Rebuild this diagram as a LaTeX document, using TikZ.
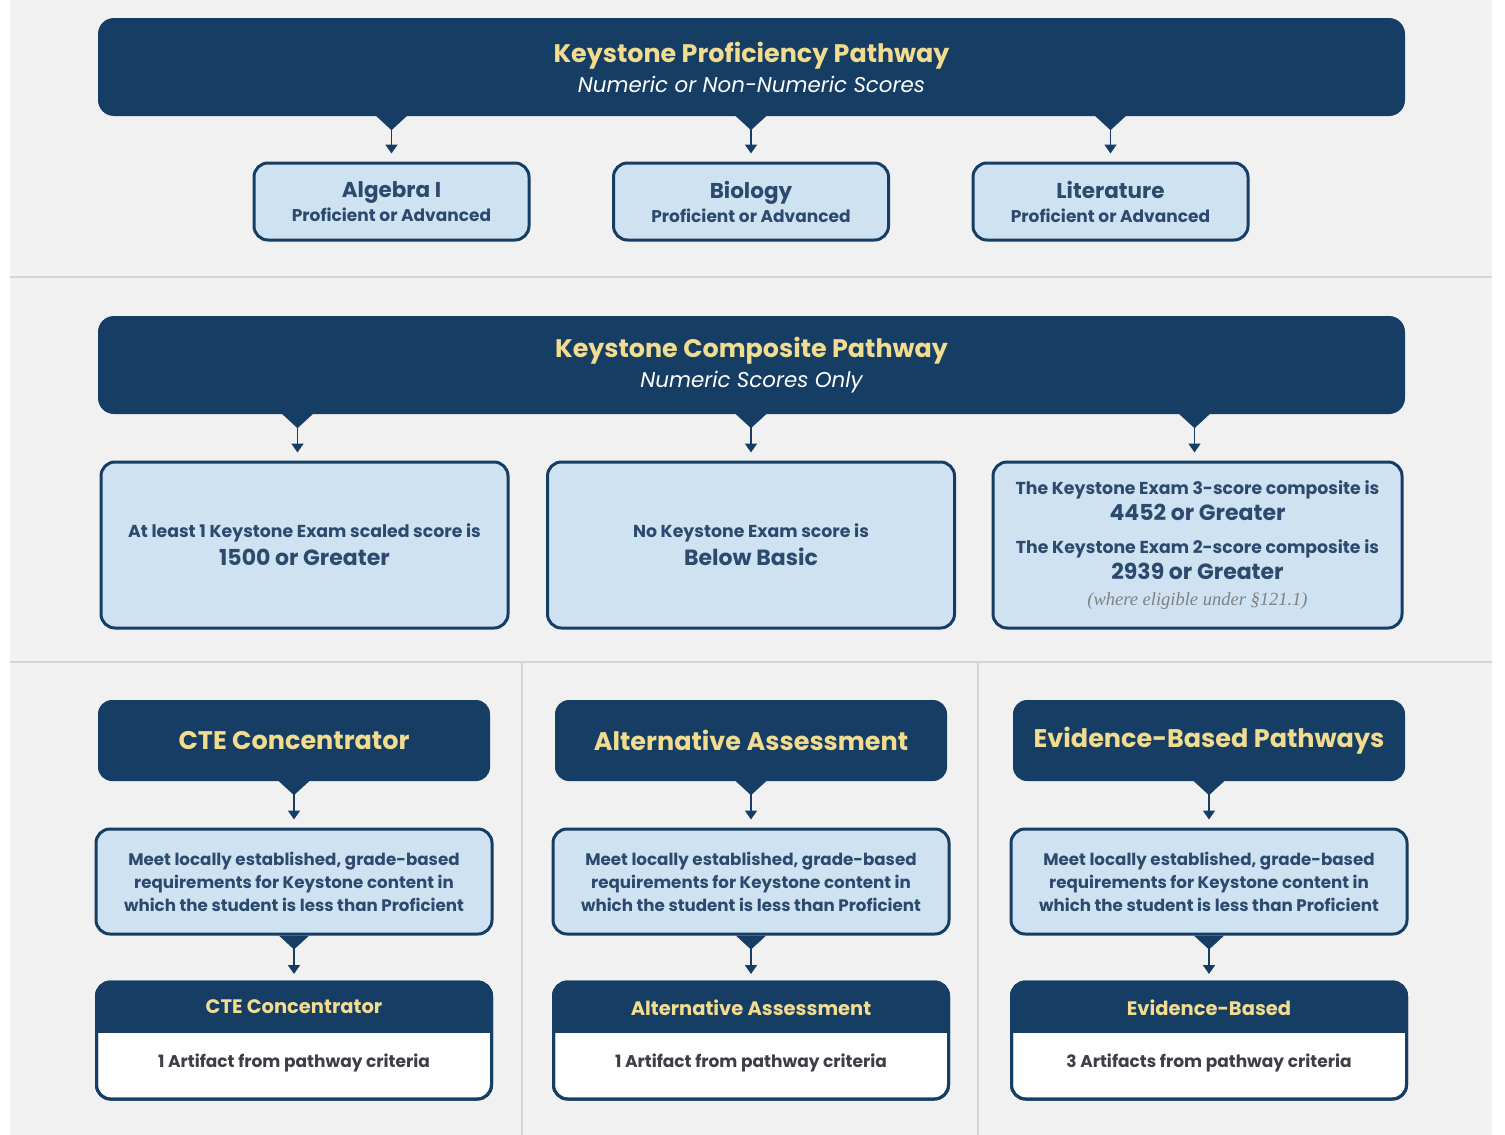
\documentclass[tikz,border=0pt]{standalone}
\usepackage{fontspec}
\setmainfont{Poppins}
\newfontfamily\notefont{Liberation Serif}
\usetikzlibrary{positioning,arrows.meta}
\definecolor{navy}{HTML}{163D63}
\definecolor{gold}{HTML}{F1DC8F}
\definecolor{pale}{HTML}{CFE2F1}
\definecolor{paper}{HTML}{F1F1F1}
\definecolor{rule}{HTML}{D5D5D5}
\definecolor{ink}{HTML}{2C4A6E}
\definecolor{body}{HTML}{3C3F45}

\begin{document}
\begin{tikzpicture}[x=1pt,y=-1pt,
  banner/.style={fill=navy,rounded corners=16pt,minimum width=1307pt,minimum height=98pt,align=center,inner sep=0pt,
    font=\fontsize{21.4}{30}\selectfont},
  palebox/.style={fill=pale,draw=navy,line width=3pt,rounded corners=14pt,align=center,text=ink,inner sep=0pt},
  headbox/.style={fill=navy,rounded corners=14pt,minimum width=392pt,minimum height=81pt,text=gold,
    font=\bfseries\fontsize{25.5}{28}\selectfont},
  outbox/.style={fill=white,draw=navy,line width=3pt,rounded corners=14pt,minimum width=395pt,minimum height=117pt,outer sep=0pt},
  link/.style={navy,line width=1.8pt,{Triangle[reversed,width=30pt,length=14pt]}-{Triangle[width=12pt,length=9pt]},shorten >=8pt},
  sep/.style={rule,line width=2pt}]

  \useasboundingbox (0,0) rectangle (1505,1135);
  \fill[paper] (10,0) rectangle (1492,1135);
  \draw[sep] (10,277) -- (1492,277);
  \draw[sep] (10,662) -- (1492,662);
  \draw[sep] (522,662) -- (522,1135);
  \draw[sep] (978,662) -- (978,1135);

  % proficiency
  \node[banner] (prof) at (751.5,67)
    {{\bfseries\color{gold}\fontsize{25.4}{30}\selectfont Keystone Proficiency Pathway}\\
     {\itshape\color{white}Numeric or Non-Numeric Scores}};
  \node[palebox,minimum width=275pt,minimum height=77pt,font=\fontsize{17}{24}\selectfont] (alg) at (391.5,201.5)
    {{\bfseries\fontsize{21.5}{24}\selectfont Algebra I}\\{\bfseries Proficient or Advanced}};
  \node[palebox,minimum width=275pt,minimum height=77pt,font=\fontsize{17}{24}\selectfont] (bio) at (751,201.5)
    {{\bfseries\fontsize{21.5}{24}\selectfont Biology}\\{\bfseries Proficient or Advanced}};
  \node[palebox,minimum width=275pt,minimum height=77pt,font=\fontsize{17}{24}\selectfont] (lit) at (1110.5,201.5)
    {{\bfseries\fontsize{21.5}{24}\selectfont Literature}\\{\bfseries Proficient or Advanced}};
  \draw[link] (prof.south -| alg.north) -- (alg.north);
  \draw[link] (prof.south -| bio.north) -- (bio.north);
  \draw[link] (prof.south -| lit.north) -- (lit.north);

  % composite
  \node[banner] (comp) at (751.5,365)
    {{\bfseries\color{gold}\fontsize{25.4}{30}\selectfont Keystone Composite Pathway}\\
     {\itshape\color{white}Numeric Scores Only}};
  \node[palebox,minimum width=407pt,minimum height=166pt,font=\fontsize{17.3}{28}\selectfont] (one) at (304.5,545)
    {{\bfseries At least 1 Keystone Exam scaled score is}\\
     {\bfseries\fontsize{22}{24}\selectfont 1500 or Greater}};
  \node[palebox,minimum width=407pt,minimum height=166pt,font=\fontsize{17.3}{28}\selectfont] (nobb) at (751,545)
    {{\bfseries No Keystone Exam score is}\\
     {\bfseries\fontsize{22}{24}\selectfont Below Basic}};
  \node[palebox,minimum width=409pt,minimum height=166pt,font=\fontsize{17.3}{26}\selectfont] (sum) at (1197.5,545)
    {{\bfseries The Keystone Exam 3-score composite is}\\
     {\bfseries\fontsize{22}{24}\selectfont 4452 or Greater}\\[7pt]
     {\bfseries The Keystone Exam 2-score composite is}\\
     {\bfseries\fontsize{22}{24}\selectfont 2939 or Greater}\\
     {\notefont\itshape\color{gray}\fontsize{18.5}{18}\selectfont (where eligible under §121.1)}};
  \draw[link] ([xshift=-7pt]comp.south -| one.north) -- ([xshift=-7pt]one.north);
  \draw[link] (comp.south -| nobb.north) -- (nobb.north);
  \draw[link] ([xshift=-3pt]comp.south -| sum.north) -- ([xshift=-3pt]sum.north);

  % pathways
  \node[headbox] (cte) at (294,740.5) {CTE Concentrator};
  \node[headbox] (alt) at (751,740.5) {Alternative Assessment};
  \node[headbox] (evid) at (1209,740.5) {Evidence-Based Pathways};

  \node[palebox,minimum width=396pt,minimum height=105pt,font=\bfseries\fontsize{16.7}{23}\selectfont] (ctemeet) at (294,881.5)
    {Meet locally established, grade-based\\requirements for Keystone content in\\which the student is less than Proficient};
  \node[palebox,minimum width=396pt,minimum height=105pt,font=\bfseries\fontsize{16.7}{23}\selectfont] (altmeet) at (751,881.5)
    {Meet locally established, grade-based\\requirements for Keystone content in\\which the student is less than Proficient};
  \node[palebox,minimum width=396pt,minimum height=105pt,font=\bfseries\fontsize{16.7}{23}\selectfont] (evidmeet) at (1209,881.5)
    {Meet locally established, grade-based\\requirements for Keystone content in\\which the student is less than Proficient};

  \node[outbox] (cteout) at (294,1040.5) {};
  \node[outbox] (altout) at (751,1040.5) {};
  \node[outbox] (evidout) at (1209,1040.5) {};
  \begin{scope}
    \clip[rounded corners=14pt] (cteout.north west) rectangle (cteout.south east);
    \fill[navy] (cteout.north west) rectangle ([yshift=-51pt]cteout.north east);
  \end{scope}
  \begin{scope}
    \clip[rounded corners=14pt] (altout.north west) rectangle (altout.south east);
    \fill[navy] (altout.north west) rectangle ([yshift=-51pt]altout.north east);
  \end{scope}
  \begin{scope}
    \clip[rounded corners=14pt] (evidout.north west) rectangle (evidout.south east);
    \fill[navy] (evidout.north west) rectangle ([yshift=-51pt]evidout.north east);
  \end{scope}
  \draw[navy,line width=3pt,rounded corners=14pt] (cteout.north west) rectangle (cteout.south east);
  \draw[navy,line width=3pt,rounded corners=14pt] (altout.north west) rectangle (altout.south east);
  \draw[navy,line width=3pt,rounded corners=14pt] (evidout.north west) rectangle (evidout.south east);

  \node[text=gold,font=\bfseries\fontsize{19.5}{20}\selectfont] (ctetag) at ([yshift=-25pt]cteout.north) {CTE Concentrator};
  \node[text=gold,font=\bfseries\fontsize{19.5}{20}\selectfont] (alttag) at ([yshift=-26pt]altout.north) {Alternative Assessment};
  \node[text=gold,font=\bfseries\fontsize{19.5}{20}\selectfont] (evidtag) at ([yshift=-26pt]evidout.north) {Evidence-Based};
  \node[text=body,font=\bfseries\fontsize{17}{18}\selectfont] (ctenum) at ([yshift=-81pt]cteout.north) {1 Artifact from pathway criteria};
  \node[text=body,font=\bfseries\fontsize{17}{18}\selectfont] (altnum) at ([yshift=-81pt]altout.north) {1 Artifact from pathway criteria};
  \node[text=body,font=\bfseries\fontsize{17}{18}\selectfont] (evidnum) at ([yshift=-81pt]evidout.north) {3 Artifacts from pathway criteria};

  \draw[link] (cte.south) -- (ctemeet.north);
  \draw[link] (alt.south) -- (altmeet.north);
  \draw[link] (evid.south) -- (evidmeet.north);
  \draw[link] (ctemeet.south) -- (cteout.north);
  \draw[link] (altmeet.south) -- (altout.north);
  \draw[link] (evidmeet.south) -- (evidout.north);
\end{tikzpicture}
\end{document}
